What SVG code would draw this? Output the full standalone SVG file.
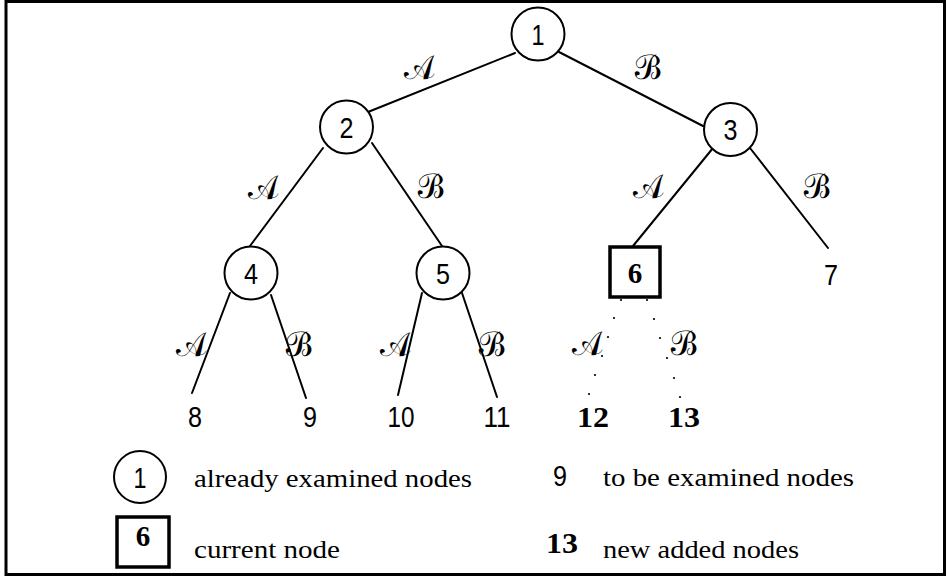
<svg xmlns="http://www.w3.org/2000/svg" width="947" height="576" viewBox="0 0 947 576">
<style>
.frame{fill:none;stroke:#000;stroke-width:3}
.nd{fill:#fff;stroke:#000;stroke-width:2}
.cur{fill:#fff;stroke:#000;stroke-width:3.5}
.e{stroke:#000;stroke-width:2;fill:none;stroke-linecap:round}
.num{font-family:"Liberation Sans","DejaVu Sans",sans-serif;font-size:29px;text-anchor:middle;fill:#000}
.bnum{font-family:"Liberation Serif","DejaVu Serif",serif;font-size:29px;font-weight:bold;text-anchor:middle;fill:#000}
.lab{font-family:"DejaVu Serif","Liberation Serif",serif;font-size:34px;text-anchor:middle;fill:#000}
.txt{font-family:"Liberation Serif","DejaVu Serif",serif;font-size:25px;fill:#000}
.dot{fill:#000}
</style>
<rect class="frame" x="6" y="1.5" width="938.5" height="573"/>
<g id="connectors">
<line class="e" x1="515" y1="53" x2="368" y2="112"/>
<line class="e" x1="559" y1="52" x2="703" y2="126"/>
<line class="e" x1="323" y1="148" x2="250" y2="246"/>
<line class="e" x1="372" y1="143" x2="442" y2="246"/>
<line class="e" x1="713" y1="148" x2="633" y2="246"/>
<line class="e" x1="750" y1="148" x2="828" y2="248"/>
<line class="e" x1="230" y1="293" x2="192" y2="393"/>
<line class="e" x1="271" y1="295" x2="306" y2="398"/>
<line class="e" x1="422" y1="293" x2="398" y2="395"/>
<line class="e" x1="462" y1="293" x2="497" y2="397"/>
<g id="dots-6-12">
<circle class="dot" cx="621" cy="300" r="1.1"/>
<circle class="dot" cx="614" cy="318" r="1.1"/>
<circle class="dot" cx="608" cy="337" r="1.1"/>
<circle class="dot" cx="602" cy="356" r="1.1"/>
<circle class="dot" cx="595" cy="375" r="1.1"/>
<circle class="dot" cx="589" cy="394" r="1.1"/>
</g>
<g id="dots-6-13">
<circle class="dot" cx="647" cy="300" r="1.1"/>
<circle class="dot" cx="654" cy="319" r="1.1"/>
<circle class="dot" cx="660" cy="338" r="1.1"/>
<circle class="dot" cx="667" cy="358" r="1.1"/>
<circle class="dot" cx="674" cy="378" r="1.1"/>
<circle class="dot" cx="680" cy="397" r="1.1"/>
</g>
<text class="lab" transform="translate(421,79) skewX(14)">𝒜</text>
<text class="lab" transform="translate(650,79) skewX(14)">ℬ</text>
<text class="lab" transform="translate(265,199) skewX(14)">𝒜</text>
<text class="lab" transform="translate(433,198) skewX(14)">ℬ</text>
<text class="lab" transform="translate(650,198) skewX(14)">𝒜</text>
<text class="lab" transform="translate(819,198) skewX(14)">ℬ</text>
<text class="lab" transform="translate(193,356) skewX(14)">𝒜</text>
<text class="lab" transform="translate(301,356) skewX(14)">ℬ</text>
<text class="lab" transform="translate(397,356) skewX(14)">𝒜</text>
<text class="lab" transform="translate(494,356) skewX(14)">ℬ</text>
<text class="lab" transform="translate(589,355) skewX(14)">𝒜</text>
<text class="lab" transform="translate(686,355) skewX(14)">ℬ</text>
</g>
<g id="n1"><circle class="nd" cx="538" cy="34" r="26.5"/><text class="num" x="538" y="44.5" textLength="13" lengthAdjust="spacingAndGlyphs">1</text></g>
<g id="n2"><circle class="nd" cx="346.5" cy="127" r="26.5"/><text class="num" x="346.5" y="137.5" textLength="14" lengthAdjust="spacingAndGlyphs">2</text></g>
<g id="n3"><circle class="nd" cx="730.5" cy="129.5" r="26.5"/><text class="num" x="730.5" y="140" textLength="14" lengthAdjust="spacingAndGlyphs">3</text></g>
<g id="n4"><circle class="nd" cx="251" cy="273" r="26.5"/><text class="num" x="251" y="283.5" textLength="14" lengthAdjust="spacingAndGlyphs">4</text></g>
<g id="n5"><circle class="nd" cx="443" cy="273" r="26.5"/><text class="num" x="443" y="283.5" textLength="14" lengthAdjust="spacingAndGlyphs">5</text></g>
<g id="n6"><rect class="cur" x="610" y="247" width="50" height="50"/><text class="bnum" x="635" y="283">6</text></g>
<g id="n7"><text class="num" x="831" y="285" textLength="14" lengthAdjust="spacingAndGlyphs">7</text></g>
<g id="n8"><text class="num" x="195" y="427" textLength="14" lengthAdjust="spacingAndGlyphs">8</text></g>
<g id="n9"><text class="num" x="310" y="427" textLength="14" lengthAdjust="spacingAndGlyphs">9</text></g>
<g id="n10"><text class="num" x="401" y="427" textLength="27" lengthAdjust="spacingAndGlyphs">10</text></g>
<g id="n11"><text class="num" x="497" y="427" textLength="27" lengthAdjust="spacingAndGlyphs">11</text></g>
<g id="n12"><text class="bnum" x="593" y="427" textLength="32" lengthAdjust="spacingAndGlyphs">12</text></g>
<g id="n13"><text class="bnum" x="684" y="427" textLength="32" lengthAdjust="spacingAndGlyphs">13</text></g>
<g id="legend">
<circle class="nd" cx="140" cy="477" r="26"/><text class="num" x="140" y="487.5" textLength="13" lengthAdjust="spacingAndGlyphs">1</text>
<text class="txt" x="194" y="487" textLength="278" lengthAdjust="spacingAndGlyphs">already examined nodes</text>
<rect class="cur" x="117" y="517" width="52" height="50"/><text class="bnum" x="143" y="546">6</text>
<text class="txt" x="194" y="558" textLength="146" lengthAdjust="spacingAndGlyphs">current node</text>
<text class="num" x="560" y="486" textLength="14" lengthAdjust="spacingAndGlyphs">9</text>
<text class="txt" x="603" y="486" textLength="251" lengthAdjust="spacingAndGlyphs">to be examined nodes</text>
<text class="bnum" x="562" y="553" textLength="32" lengthAdjust="spacingAndGlyphs">13</text>
<text class="txt" x="603" y="558" textLength="196" lengthAdjust="spacingAndGlyphs">new added nodes</text>
</g>
</svg>
